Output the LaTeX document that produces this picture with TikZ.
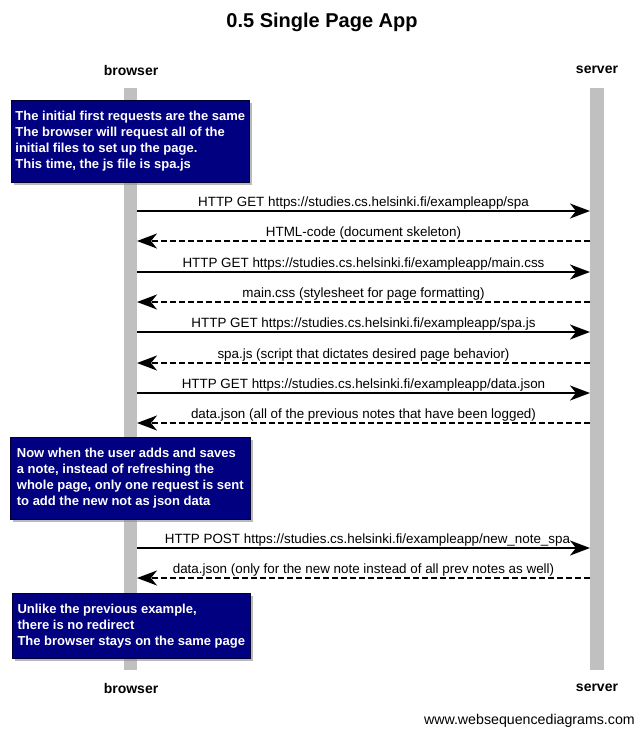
\documentclass[tikz,border=0pt]{standalone}
\usepackage{fontspec}
\setmainfont{Liberation Sans}
\usetikzlibrary{arrows.meta,shadows}
\definecolor{notefill}{HTML}{000080}
\definecolor{lifeline}{HTML}{C0C0C0}
\begin{document}
\begin{tikzpicture}[x=1pt,y=-1pt,
  actor/.style={font=\fontsize{14}{16}\selectfont\bfseries, inner sep=0pt},
  bar/.style={fill=lifeline, draw=none, minimum width=13.5pt, inner sep=0pt},
  note/.style={fill=notefill, draw=black!60!notefill, line width=0.6pt, text=white,
    font=\fontsize{13}{16}\selectfont\bfseries, align=left, anchor=north west,
    inner sep=0pt, drop shadow={shadow xshift=3pt, shadow yshift=-3pt, fill=black!45, opacity=0.6}},
  msg/.style={line width=2pt, -{Stealth[length=20pt 0 0, width=15pt 0 0, inset=6pt 0 0]}},
  reply/.style={msg, dash pattern=on 6pt off 3pt},
  lbl/.style={font=\fontsize{13.4}{15}\selectfont, inner sep=0pt, above=1pt}
]
\useasboundingbox (0,0) rectangle (644,737);
\fill[white] (0,0) rectangle (644,737);

% title and participants
\node[font=\fontsize{20}{24}\selectfont\bfseries] (title) at (322,22) {0.5 Single Page App};
\node[actor] (btop) at (131,70) {browser};
\node[actor] (stop) at (597,70) {server};
\node[actor] (bbot) at (131,688) {browser};
\node[actor] (sbot) at (597,688) {server};

% lifelines
\node[bar, minimum height=582pt] (bline) at (130.5,379) {};
\node[bar, minimum height=582pt, minimum width=14pt] (sline) at (597,379) {};

% message end points on the lifelines
\foreach \i/\y in {1/211,2/241,3/272,4/302,5/332,6/363,7/393,8/423,9/548,10/578}{
  \coordinate (b\i) at (137,\y);
  \coordinate (s\i) at (590,\y);
}

% notes
\node[note, minimum width=238pt, minimum height=82pt, xshift=1pt] (n1) at (10,100)
  {The initial first requests are the same\\The browser will request all of the\\initial files to set up the page.\\This time, the js file is spa.js};
\node[note, minimum width=240pt, minimum height=82pt] (n2) at (10,437)
  {Now when the user adds and saves\\a note, instead of refreshing the\\whole page, only one request is sent\\to add the new not as json data};
\node[note, minimum width=238pt, minimum height=65pt] (n3) at (12,593)
  {Unlike the previous example,\\there is no redirect\\The browser stays on the same page};

% messages
\draw[msg] (b1) -- node[lbl] {HTTP GET https://studies.cs.helsinki.fi/exampleapp/spa} (s1);
\draw[reply] (s2) -- node[lbl] {HTML-code (document skeleton)} (b2);
\draw[msg] (b3) -- node[lbl] {HTTP GET https://studies.cs.helsinki.fi/exampleapp/main.css} (s3);
\draw[reply] (s4) -- node[lbl] {main.css (stylesheet for page formatting)} (b4);
\draw[msg] (b5) -- node[lbl] {HTTP GET https://studies.cs.helsinki.fi/exampleapp/spa.js} (s5);
\draw[reply] (s6) -- node[lbl] {spa.js (script that dictates desired page behavior)} (b6);
\draw[msg] (b7) -- node[lbl] {HTTP GET https://studies.cs.helsinki.fi/exampleapp/data.json} (s7);
\draw[reply] (s8) -- node[lbl] {data.json (all of the previous notes that have been logged)} (b8);
\draw[msg] (b9) -- node[lbl, xshift=4pt] {HTTP POST https://studies.cs.helsinki.fi/exampleapp/new\_note\_spa} (s9);
\draw[reply] (s10) -- node[lbl] {data.json (only for the new note instead of all prev notes as well)} (b10);

% footer
\node[font=\fontsize{14.2}{16}\selectfont, anchor=east, inner sep=0pt] (credit) at (635,721) {www.websequencediagrams.com};
\end{tikzpicture}
\end{document}
